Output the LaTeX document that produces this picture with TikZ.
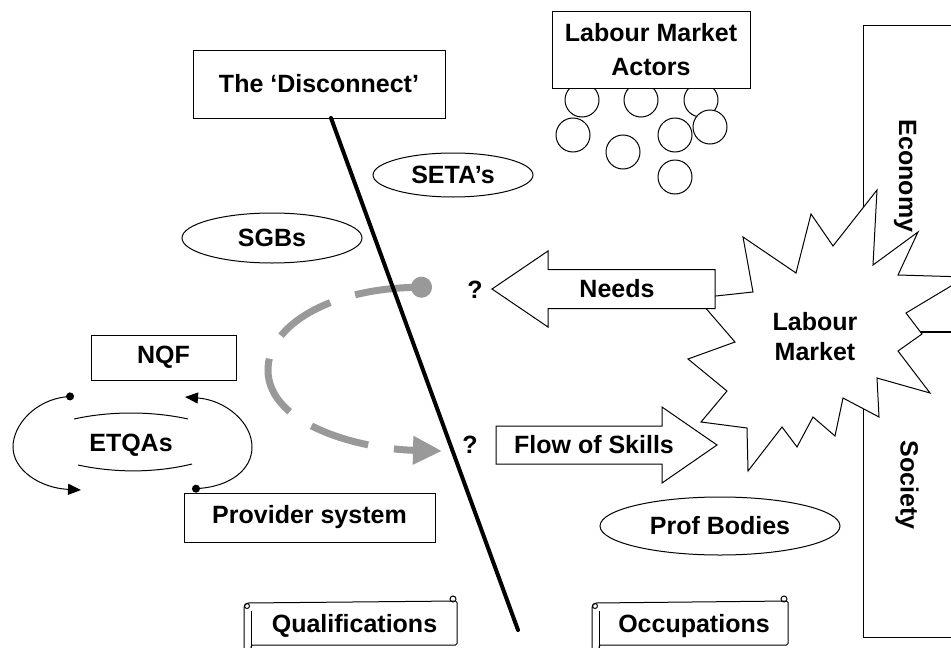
\documentclass[tikz,border=0pt]{standalone}
\usepackage{fontspec}
\setmainfont{Liberation Sans}
\usetikzlibrary{arrows.meta,shapes.geometric}
\definecolor{lmGray}{HTML}{999999}
\tikzset{
  lm diagram/.style={font=\fontsize{25}{31}\selectfont\bfseries,
    line join=miter},
  lm line/.style={draw=black, line width=1pt},
  lm box/.style={lm line, fill=white, rectangle, inner sep=0pt, align=center},
  lm oval/.style={lm line, fill=white, ellipse, inner sep=0pt},
  lm actor/.style={lm line, fill=white, circle, minimum size=34pt, inner sep=0pt},
  lm loop/.style={line width=1pt, {Circle[length=8pt]}-{Triangle[length=13pt,width=11pt]}},
  lm link/.style={draw=lmGray, line width=7pt, dash pattern=on 60pt off 26pt,
    {Circle[length=21pt]}-{Triangle[length=29pt,width=27pt]}},
  lm divide/.style={line width=4pt, line cap=round},
  lm scroll/.style={line width=1pt, rounded corners=1.5pt}
}
\begin{document}
\begin{tikzpicture}[lm diagram, x=1pt, y=-1pt]
\useasboundingbox (0,0) rectangle (951,648);
\clip (0,0) rectangle (951,648);

% economy and society columns, running off the right edge
\draw[lm line] (863,25) rectangle (975,332);
\draw[lm line] (863,332) rectangle (975,637);
\draw[line width=2pt] (863,332) -- (975,332);
\node[rotate=-90] (econ) at (905,176) {Economy};
\node[rotate=-90] (soc) at (907,485) {Society};

% labour market burst
\draw[lm line, fill=white] (697,298) -- (753,292) -- (743,237) -- (796,273)
  -- (811,214) -- (833,246) -- (877,190) -- (873,265) -- (918,232)
  -- (898,275) -- (966,277) -- (906,313) -- (922,334) -- (898,351)
  -- (930,393) -- (877,378) -- (879,417) -- (843,398) -- (835,436)
  -- (813,417) -- (797,447) -- (782,427) -- (748,471) -- (747,428)
  -- (701,422) -- (727,391) -- (688,359) -- (735,342) -- cycle;
\node[align=center, font=\fontsize{25}{30}\selectfont\bfseries] (lm) at (815,337) {Labour\\Market};

% block arrows
\draw[lm line, fill=white] (492,289) -- (548,251) -- (548,269.5) -- (715,269.5)
  -- (715,308.5) -- (548,308.5) -- (548,327) -- cycle;
\node (needs) at (617,289) {Needs};
\draw[lm line, fill=white] (496,426) -- (662,426) -- (662,407) -- (717,445)
  -- (662,483) -- (662,464) -- (496,464) -- cycle;
\node (flow) at (594,445) {Flow of Skills};
\node (ask1) at (475,290) {?};
\node (ask2) at (470,445) {?};

% labour market actors
\foreach \cx/\cy in {582/100, 641/100, 701/100, 573/135, 623/152, 675/135, 675/177, 710/127}
  \node[lm actor] at (\cx,\cy) {};
\node[lm box, minimum width=198pt, minimum height=77pt,
  font=\fontsize{25}{34}\selectfont\bfseries] (actors) at (651,49.5) {Labour Market\\Actors};

% bodies
\node[lm oval, minimum width=160pt, minimum height=44pt] (seta) at (453,175) {SETA's};
\node[lm oval, minimum width=180pt, minimum height=50pt] (sgb) at (272,238) {SGBs};
\node[lm oval, minimum width=240pt, minimum height=58pt] (prof) at (720,526) {Prof Bodies};

% qualification side
\node[lm box, minimum width=145pt, minimum height=45pt] (nqf) at (163.5,357.5) {NQF};
\node[lm box, minimum width=251pt, minimum height=49pt] (prov) at (309.5,517.5) {Provider system};
\node (etqa) at (131,445) {ETQAs};
\draw[lm line] (74,419) .. controls (110,411) and (152,411) .. (188,419);
\draw[lm line] (78,465) .. controls (115,473) and (155,473) .. (192,464);
\coordinate (loop a) at (74,396);
\coordinate (loop b) at (81,490);
\coordinate (loop c) at (192,489);
\coordinate (loop d) at (185,397);
\draw[lm loop] (loop a) .. controls (35,400) and (13,425) .. (13,447)
  .. controls (13,470) and (40,488) .. (loop b);
\draw[lm loop] (loop c) .. controls (230,486) and (252,470) .. (252,447)
  .. controls (252,422) and (225,400) .. (loop d);

% the gap between the two systems
\coordinate (link a) at (432,287);
\coordinate (link b) at (442,451);
\draw[lm link] (link a) .. controls (330,289) and (268,325) .. (268,370)
  .. controls (268,425) and (360,449) .. (link b);
\node[lm box, minimum width=252pt, minimum height=68pt] (gap) at (319,84) {The ‘Disconnect’};
\coordinate (cut a) at (331,118);
\coordinate (cut b) at (518,630);
\draw[lm divide] (cut a) -- (cut b);

% scrolls
\foreach \l/\r/\nm/\txt in {244/457/qual/Qualifications, 592/788/occ/Occupations} {
  \draw[lm scroll, fill=white] (\l+7,645) -- (\r,645) -- (\r,601) -- (\l+3,603) -- (\l,606) -- (\l,660) -- (\l+7,660) -- cycle;
  \draw[lm line] (\l+7,611) -- (\l+7,660);
  \draw[lm line] (\l+3,606) circle (2.5pt);
  \draw[lm line] (\r-4,599) circle (3pt);
  \node (\nm) at ({(\l+\r)/2+4},626) {\txt};
}
\end{tikzpicture}
\end{document}
